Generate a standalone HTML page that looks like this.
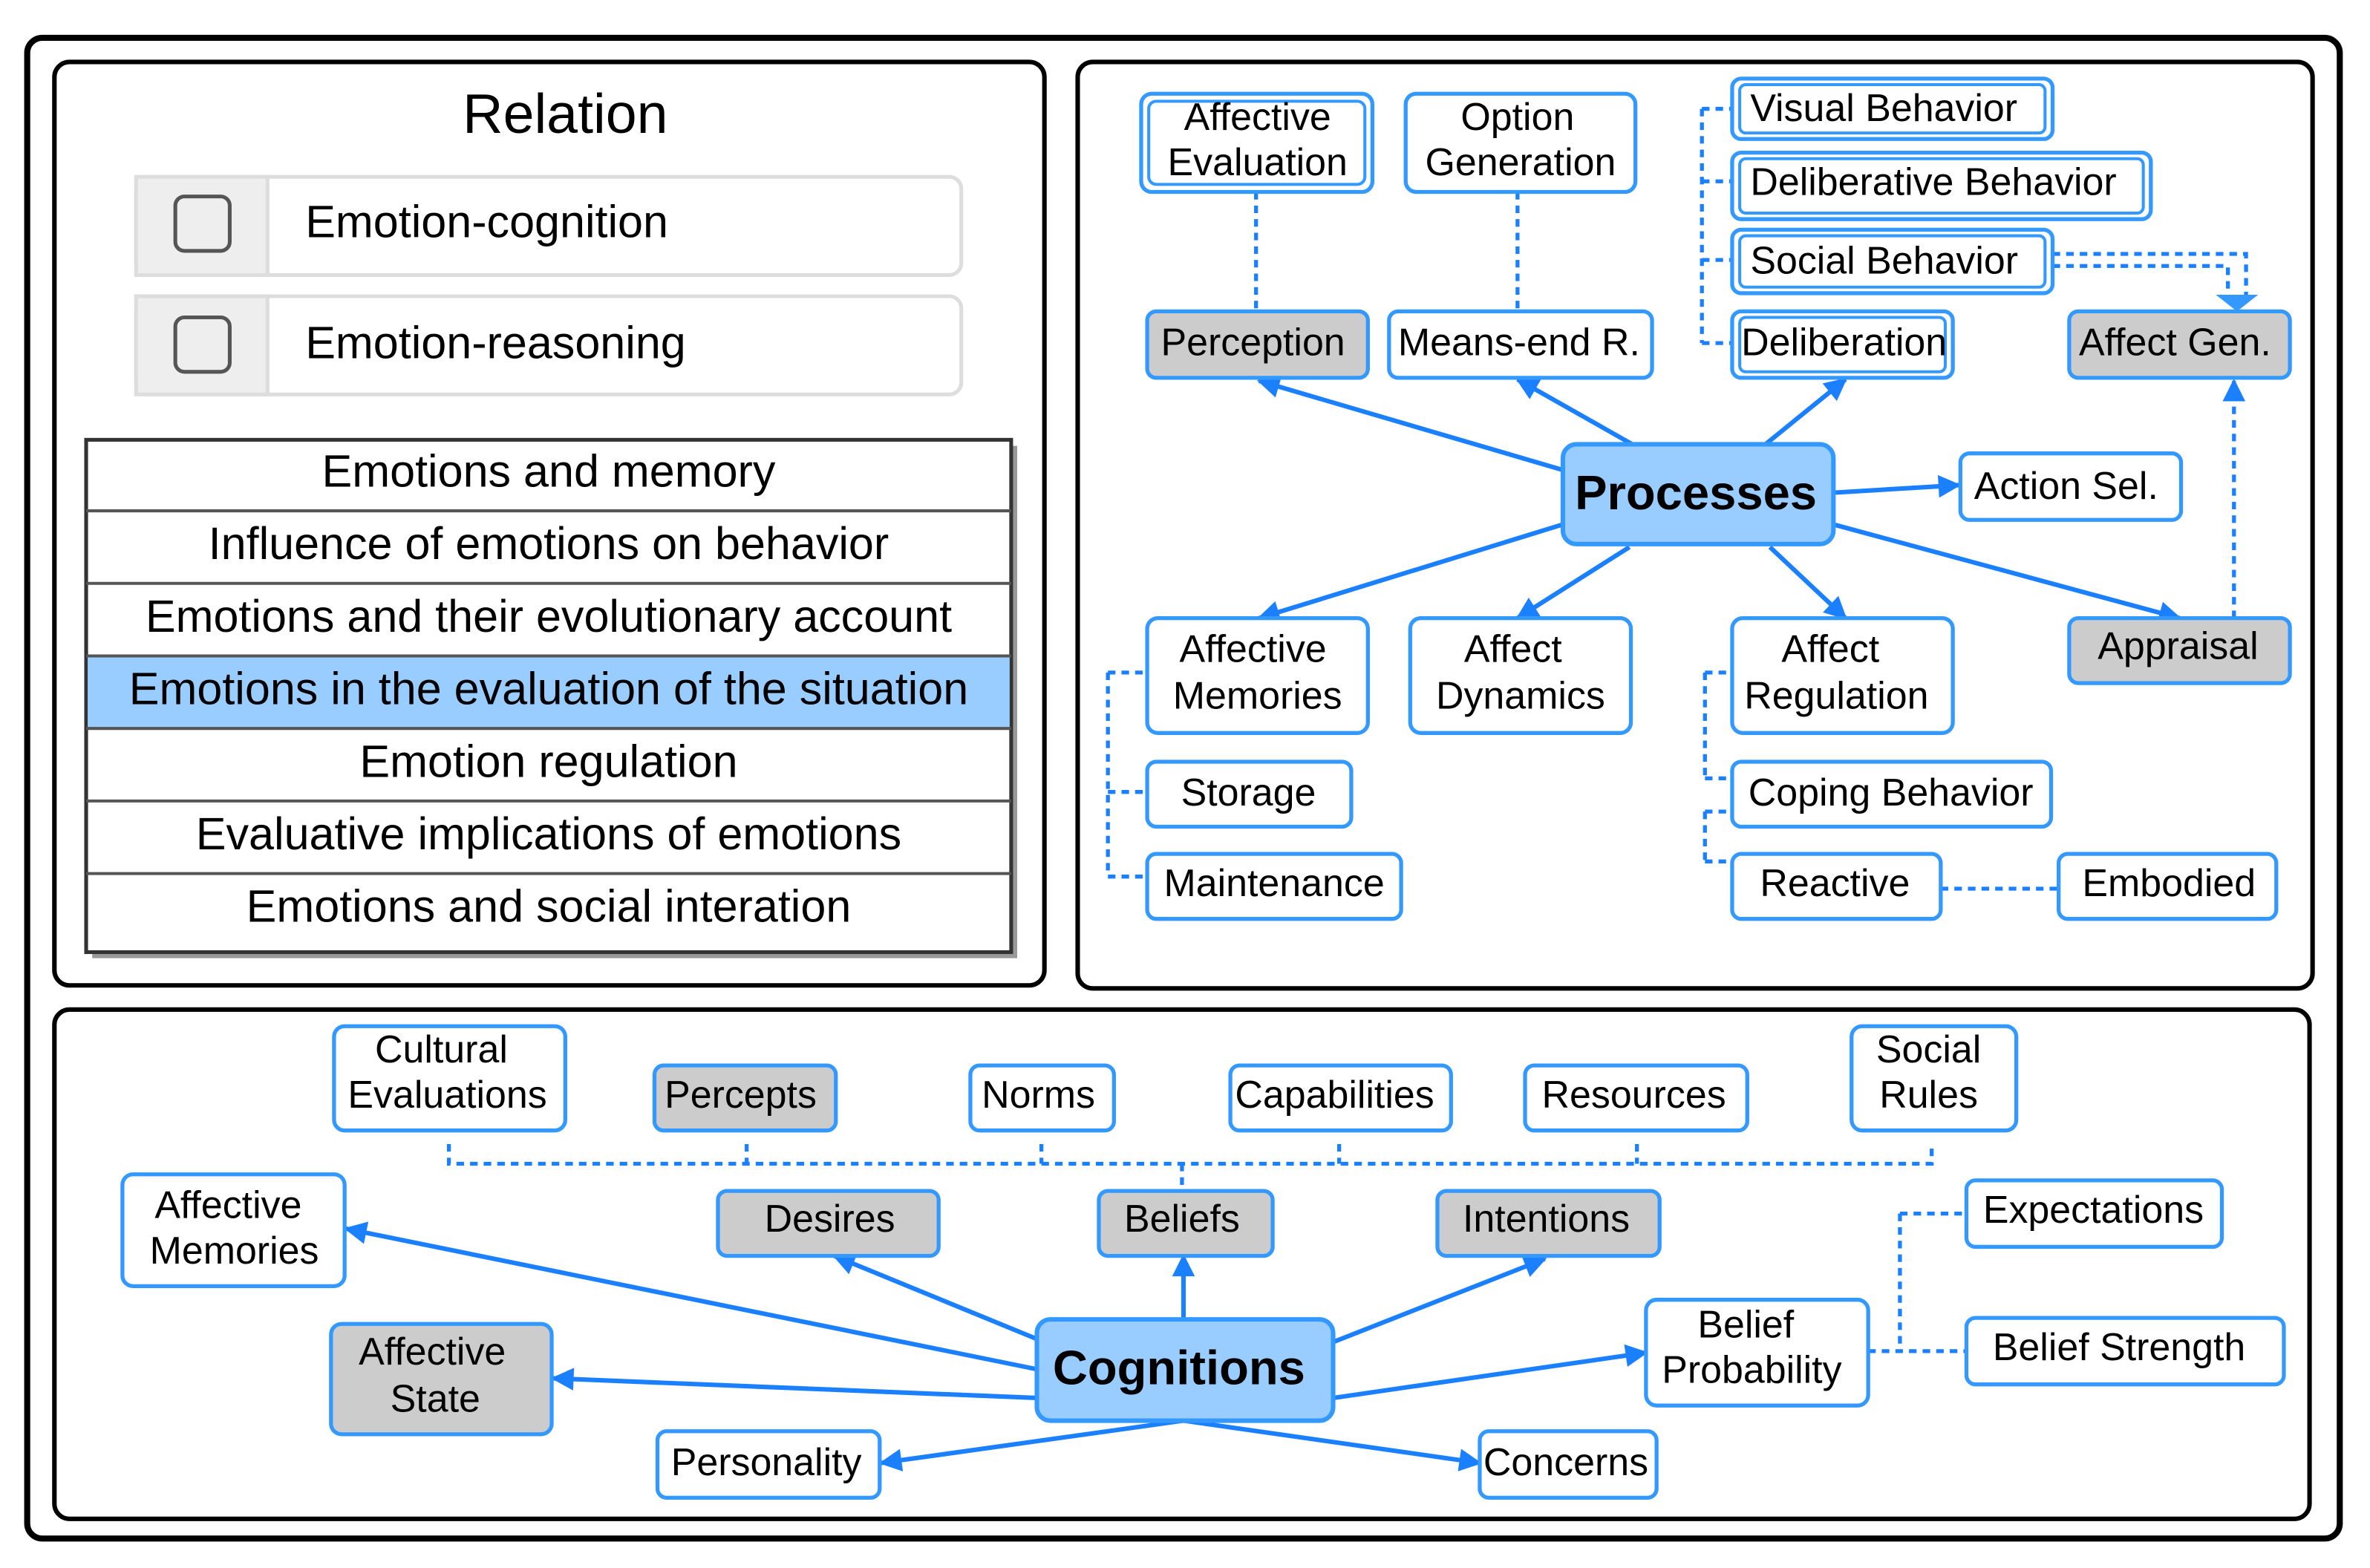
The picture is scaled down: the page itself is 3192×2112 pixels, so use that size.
<!DOCTYPE html>
<html><head><meta charset="utf-8"><style>
html,body{margin:0;padding:0;background:#fff}
svg{display:block}
text{font-family:"Liberation Sans",sans-serif;fill:#000}
.n{fill:#fff;stroke:#3399ff;stroke-width:2.6}
.g{fill:#cccccc;stroke:#3399ff;stroke-width:2.6}
.e{stroke:#1a80ff;stroke-width:3;fill:none;marker-end:url(#a)}
.d{stroke:#1a80ff;stroke-width:2.6;fill:none;stroke-dasharray:5 4}
.t{font-size:25.5px;text-anchor:middle}
</style></head><body>
<svg width="3192" height="2112" viewBox="0 0 1568 1037.5" preserveAspectRatio="none" xmlns="http://www.w3.org/2000/svg">
<defs><marker id="a" viewBox="0 0 10 10" refX="9" refY="5" markerWidth="17" markerHeight="15" orient="auto" markerUnits="userSpaceOnUse"><path d="M0,0 L10,5 L0,10 z" fill="#1a80ff"/></marker>
<marker id="b" viewBox="0 0 10 10" refX="9" refY="5" markerWidth="17" markerHeight="15" orient="auto" markerUnits="userSpaceOnUse"><path d="M0,0 L10,5 L0,10 z" fill="#1a80ff"/></marker></defs>
<rect x="18" y="25" width="1530" height="993" rx="10" fill="#fff" stroke="#000" stroke-width="4"/>
<rect x="36" y="41" width="655" height="611" rx="10" fill="#fff" stroke="#000" stroke-width="3"/>
<rect x="713" y="41" width="817" height="613" rx="10" fill="#fff" stroke="#000" stroke-width="3"/>
<rect x="36" y="668" width="1492" height="337" rx="10" fill="#fff" stroke="#000" stroke-width="3"/>

<text x="374" y="88" font-size="37" text-anchor="middle">Relation</text>
<rect x="90" y="117" width="546" height="65" rx="8" fill="#fff" stroke="#ddd" stroke-width="2.5"/>
<rect x="90" y="117" width="87" height="65" fill="#eee" stroke="#ddd" stroke-width="2.5"/>
<rect x="116" y="130" width="36" height="36" rx="6" fill="#eee" stroke="#555" stroke-width="2.5"/>
<text x="202" y="157" font-size="30">Emotion-cognition</text>
<rect x="90" y="196" width="546" height="65" rx="8" fill="#fff" stroke="#ddd" stroke-width="2.5"/>
<rect x="90" y="196" width="87" height="65" fill="#eee" stroke="#ddd" stroke-width="2.5"/>
<rect x="116" y="210" width="36" height="36" rx="6" fill="#eee" stroke="#555" stroke-width="2.5"/>
<text x="202" y="237" font-size="30">Emotion-reasoning</text>
<rect x="61" y="295" width="612" height="339" fill="#999"/>
<rect x="57" y="291" width="612" height="339" fill="#fff" stroke="#333" stroke-width="2.5"/>
<rect x="58" y="434" width="610" height="48" fill="#99ccff"/>
<g stroke="#555" stroke-width="2"><line x1="57" y1="338" x2="669" y2="338"/><line x1="57" y1="386" x2="669" y2="386"/><line x1="57" y1="434" x2="669" y2="434"/><line x1="57" y1="482" x2="669" y2="482"/><line x1="57" y1="530" x2="669" y2="530"/><line x1="57" y1="578" x2="669" y2="578"/></g>
<g font-size="30" text-anchor="middle">
<text x="363" y="322">Emotions and memory</text>
<text x="363" y="370">Influence of emotions on behavior</text>
<text x="363" y="418">Emotions and their evolutionary account</text>
<text x="363" y="466">Emotions in the evaluation of the situation</text>
<text x="363" y="514">Emotion regulation</text>
<text x="363" y="562">Evaluative implications of emotions</text>
<text x="363" y="610">Emotions and social interation</text>
</g>

<path class="d" d="M831,127V206 M1004,127V206 M1126,72V227 M1126,72H1146 M1126,120H1146 M1126,172H1146 M1126,227H1146 M733,445V580 M733,445H759 M733,524H759 M733,580H759 M1128,445V515 M1128,445H1146 M1128,515H1146 M1128,537V570 M1128,537H1146 M1128,570H1146 M1284,588H1362 M1358,168H1486V200 M1358,176H1474V200"/>
<path class="d" d="M1478,409V252" marker-end="url(#b)"/>
<path d="M1466,195L1494,195L1480,206z" fill="#3399ff"/>
<path class="e" d="M1034,311L833,252"/>
<path class="e" d="M1080,294L1004,251"/>
<path class="e" d="M1168,294L1221,251"/>
<path class="e" d="M1213,326L1296,321"/>
<path class="e" d="M1034,347L833,409"/>
<path class="e" d="M1078,362L1004,409"/>
<path class="e" d="M1171,362L1221,409"/>
<path class="e" d="M1213,347L1442,409"/>
<rect class="n" x="755" y="62" width="153" height="65" rx="7"/><rect x="760" y="67" width="143" height="55" rx="5" fill="none" stroke="#3399ff" stroke-width="2"/>
<text class="t" x="832" y="86">Affective</text><text class="t" x="832" y="116">Evaluation</text>
<rect class="n" x="930" y="62" width="152" height="65" rx="7"/>
<text class="t" x="1004" y="86">Option</text><text class="t" x="1006" y="116">Generation</text>
<rect class="n" x="1146" y="52" width="212" height="40" rx="6"/><rect x="1151" y="56" width="202" height="32" rx="4" fill="none" stroke="#3399ff" stroke-width="2"/>
<text x="1158" y="80" font-size="25.5">Visual Behavior</text>
<rect class="n" x="1146" y="101" width="277" height="44" rx="6"/><rect x="1151" y="105" width="267" height="36" rx="4" fill="none" stroke="#3399ff" stroke-width="2"/>
<text x="1158" y="129" font-size="25.5">Deliberative Behavior</text>
<rect class="n" x="1146" y="152" width="212" height="42" rx="6"/><rect x="1151" y="156" width="202" height="34" rx="4" fill="none" stroke="#3399ff" stroke-width="2"/>
<text x="1158" y="181" font-size="25.5">Social Behavior</text>
<rect class="n" x="1146" y="206" width="146" height="44" rx="6"/><rect x="1151" y="210" width="136" height="36" rx="4" fill="none" stroke="#3399ff" stroke-width="2"/>
<text x="1152" y="235" font-size="25.5">Deliberation</text>
<rect class="g" x="759" y="206" width="146" height="44" rx="6"/><text class="t" x="829" y="235">Perception</text>
<rect class="n" x="919" y="206" width="174" height="44" rx="6"/><text class="t" x="1005" y="235">Means-end R.</text>
<rect class="g" x="1369" y="206" width="146" height="44" rx="6"/><text class="t" x="1439" y="235">Affect Gen.</text>
<rect x="1034" y="294" width="179" height="66" rx="9" fill="#99ccff" stroke="#3399ff" stroke-width="3"/>
<text x="1122" y="337" font-size="32" font-weight="bold" text-anchor="middle">Processes</text>
<rect class="n" x="1297" y="300" width="146" height="44" rx="6"/><text class="t" x="1367" y="330">Action Sel.</text>
<rect class="n" x="759" y="409" width="146" height="76" rx="7"/><text class="t" x="829" y="438">Affective</text><text class="t" x="832" y="469">Memories</text>
<rect class="n" x="933" y="409" width="146" height="76" rx="7"/><text class="t" x="1001" y="438">Affect</text><text class="t" x="1006" y="469">Dynamics</text>
<rect class="n" x="1146" y="409" width="146" height="76" rx="7"/><text class="t" x="1211" y="438">Affect</text><text class="t" x="1215" y="469">Regulation</text>
<rect class="g" x="1369" y="409" width="146" height="43" rx="6"/><text class="t" x="1441" y="436">Appraisal</text>
<rect class="n" x="759" y="504" width="135" height="43" rx="6"/><text class="t" x="826" y="533">Storage</text>
<rect class="n" x="759" y="565" width="168" height="43" rx="6"/><text class="t" x="843" y="593">Maintenance</text>
<rect class="n" x="1146" y="504" width="211" height="43" rx="6"/><text class="t" x="1251" y="533">Coping Behavior</text>
<rect class="n" x="1146" y="565" width="138" height="43" rx="6"/><text class="t" x="1214" y="593">Reactive</text>
<rect class="n" x="1362" y="565" width="144" height="43" rx="6"/><text class="t" x="1435" y="593">Embodied</text>

<path class="d" d="M297,757V770H1278V757 M494,757V770 M689,757V770 M886,757V770 M1083,757V770 M782,770V788 M1236,894H1301 M1257,803V894 M1257,803H1301"/>
<path class="e" d="M686,906L229,813"/>
<path class="e" d="M686,886L552,831"/>
<path class="e" d="M783,873L783,831"/>
<path class="e" d="M882,888L1022,833"/>
<path class="e" d="M686,925L366,912"/>
<path class="e" d="M882,925L1089,895"/>
<path class="e" d="M783,940L583,968"/>
<path class="e" d="M783,940L979,968"/>
<rect class="n" x="221" y="679" width="153" height="69" rx="7"/><text class="t" x="292" y="703">Cultural</text><text class="t" x="296" y="733">Evaluations</text>
<rect class="g" x="433" y="705" width="120" height="43" rx="6"/><text class="t" x="490" y="733">Percepts</text>
<rect class="n" x="642" y="705" width="95" height="43" rx="6"/><text class="t" x="687" y="733">Norms</text>
<rect class="n" x="814" y="705" width="146" height="43" rx="6"/><text class="t" x="883" y="733">Capabilities</text>
<rect class="n" x="1009" y="705" width="147" height="43" rx="6"/><text class="t" x="1081" y="733">Resources</text>
<rect class="n" x="1225" y="679" width="109" height="69" rx="7"/><text class="t" x="1276" y="703">Social</text><text class="t" x="1276" y="733">Rules</text>
<rect class="n" x="81" y="777" width="147" height="74" rx="7"/><text class="t" x="151" y="806">Affective</text><text class="t" x="155" y="836">Memories</text>
<rect class="g" x="475" y="788" width="146" height="43" rx="6"/><text class="t" x="549" y="815">Desires</text>
<rect class="g" x="727" y="788" width="115" height="43" rx="6"/><text class="t" x="782" y="815">Beliefs</text>
<rect class="g" x="951" y="788" width="147" height="43" rx="6"/><text class="t" x="1023" y="815">Intentions</text>
<rect class="n" x="1301" y="781" width="169" height="44" rx="6"/><text class="t" x="1385" y="809">Expectations</text>
<rect class="n" x="1089" y="860" width="147" height="70" rx="7"/><text class="t" x="1155" y="885">Belief</text><text class="t" x="1159" y="915">Probability</text>
<rect class="n" x="1301" y="872" width="210" height="44" rx="6"/><text class="t" x="1402" y="900">Belief Strength</text>
<rect class="g" x="219" y="876" width="146" height="73" rx="7"/><text class="t" x="286" y="903">Affective</text><text class="t" x="288" y="934">State</text>
<rect x="686" y="873" width="196" height="67" rx="9" fill="#99ccff" stroke="#3399ff" stroke-width="3"/>
<text x="780" y="916" font-size="32" font-weight="bold" text-anchor="middle">Cognitions</text>
<rect class="n" x="435" y="947" width="147" height="44" rx="6"/><text class="t" x="507" y="976">Personality</text>
<rect class="n" x="979" y="947" width="117" height="44" rx="6"/><text class="t" x="1036" y="976">Concerns</text>
</svg>
</body></html>
